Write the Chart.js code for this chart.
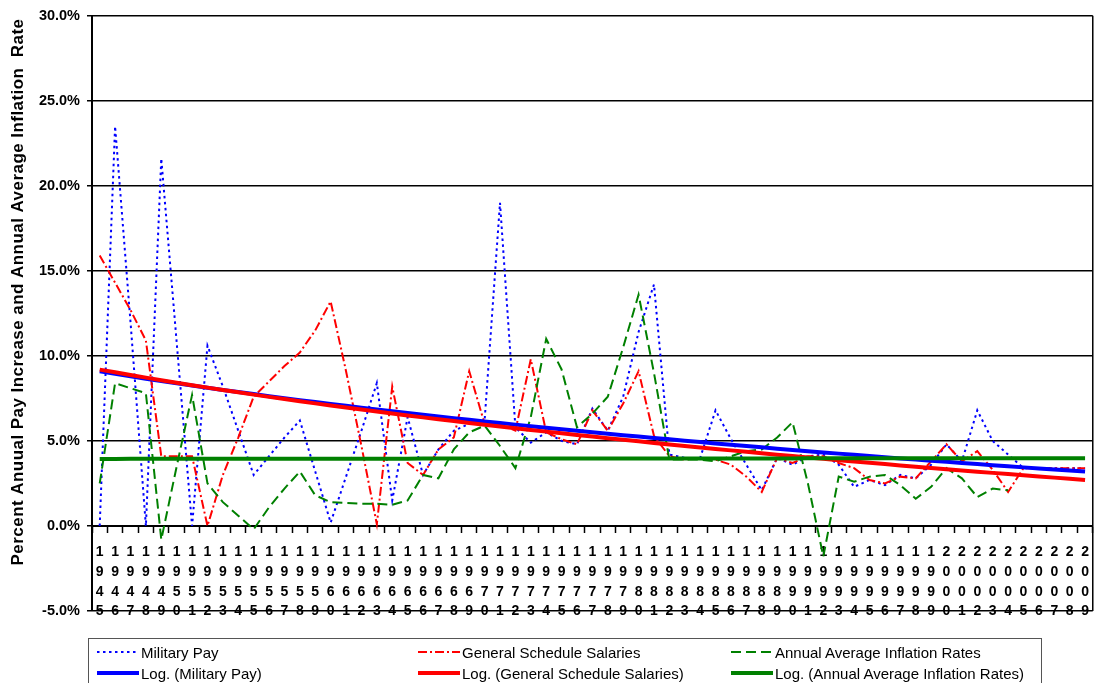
<!DOCTYPE html>
<html>
<head>
<meta charset="utf-8">
<script src="https://cdn.jsdelivr.net/npm/chart.js"></script>
<style>
body { margin: 0; background: #fff; }
#wrap { position: relative; width: 1099px; height: 683px; overflow: hidden; }
#legend { position: absolute; left: 88px; top: 638px; width: 952px; height: 52px; border: 1px solid #555; font: 15px Arial, 'Liberation Sans', sans-serif; color: #000; }
.item { position: absolute; display: flex; align-items: center; white-space: nowrap; height: 20px; }
.item svg { margin-right: 2px; }
</style>
</head>
<body>
<div id="wrap">
  <canvas id="myChart" width="1099" height="683"></canvas>
  <div id="legend"></div>
</div>
<script>
const FONT = "Arial, 'Liberation Sans', sans-serif";

const years = [1945, 1946, 1947, 1948, 1949, 1950, 1951, 1952, 1953, 1954,
  1955, 1956, 1957, 1958, 1959, 1960, 1961, 1962, 1963, 1964,
  1965, 1966, 1967, 1968, 1969, 1970, 1971, 1972, 1973, 1974,
  1975, 1976, 1977, 1978, 1979, 1980, 1981, 1982, 1983, 1984,
  1985, 1986, 1987, 1988, 1989, 1990, 1991, 1992, 1993, 1994,
  1995, 1996, 1997, 1998, 1999, 2000, 2001, 2002, 2003, 2004,
  2005, 2006, 2007, 2008, 2009];

// null = cellule vide (Excel la trace a zero mais l'ignore pour la tendance)
const militaryPay = [null, 23.5, 12.0, 0.0, 21.6, 10.8, 0.0, 10.6, 8.2, 5.6,
  3.0, 4.1, 5.2, 6.2, 3.2, 0.2, 2.9, 5.6, 8.4, 1.5,
  6.4, 3.0, 4.5, 5.6, 6.0, 6.2, 19.0, 5.8, 4.9, 5.5,
  5.0, 4.8, 6.9, 5.6, 7.6, 11.4, 14.2, 4.2, 4.0, 4.0,
  6.8, 5.1, 3.6, 2.1, 4.0, 3.6, 4.1, 4.2, 3.6, 2.3,
  2.7, 2.4, 3.0, 2.8, 3.6, 4.8, 3.8, 6.8, 5.0, 4.2,
  3.4, 3.4, 3.4, 3.4, 3.4];

const gsSalaries = [15.9, 14.3, 12.7, 10.9, 4.1, 4.1, 4.1, 0.0, 3.0, 5.2,
  7.6, 8.5, 9.4, 10.2, 11.5, 13.2, 9.1, 4.7, 0.1, 8.2,
  3.7, 3.0, 4.5, 5.2, 9.1, 6.0, 6.0, 5.6, 9.8, 5.5,
  5.1, 4.8, 6.8, 5.6, 7.2, 9.1, 5.3, 4.1, 3.9, 4.0,
  3.9, 3.6, 2.9, 2.0, 4.0, 3.7, 4.1, 4.1, 3.7, 3.4,
  2.7, 2.5, 2.9, 2.8, 3.8, 4.8, 3.8, 4.4, 3.3, 2.0,
  3.4, 3.4, 3.4, 3.4, 3.4];

const inflation = [2.5, 8.4, 8.1, 7.8, -0.8, 3.5, 7.7, 2.5, 1.4, 0.6,
  -0.2, 1.1, 2.2, 3.2, 1.8, 1.4, 1.35, 1.3, 1.3, 1.25,
  1.5, 3.0, 2.8, 4.5, 5.5, 5.9, 4.7, 3.4, 6.4, 11.0,
  9.2, 5.8, 6.6, 7.6, 10.5, 13.6, 9.0, 3.9, 3.9, 3.9,
  3.8, 4.1, 4.4, 4.5, 5.2, 6.1, 2.5, -1.8, 2.9, 2.6,
  2.9, 3.0, 2.4, 1.6, 2.3, 3.4, 2.8, 1.7, 2.2, 2.1,
  null, null, null, null, null];

const yTicks = { min: -5, max: 30, step: 5 };

// courbe de tendance logarithmique (comme Excel) : y = a*ln(x) + b, x = annee sur deux chiffres
function logTrend(values) {
  let n = 0, sx = 0, sy = 0, sxx = 0, sxy = 0;
  values.forEach(function (v, i) {
    if (v === null) return;
    const x = Math.log(years[i] - 1900);
    n++; sx += x; sy += v; sxx += x * x; sxy += x * v;
  });
  const a = (n * sxy - sx * sy) / (n * sxx - sx * sx);
  const b = (sy - a * sx) / n;
  return years.map(function (y) { return a * Math.log(y - 1900) + b; });
}

function blankAsZero(values) {
  return values.map(function (v) { return v === null ? 0 : v; });
}

const labels = years.map(function (y) { return String(y).split(''); });

const datasets = [
  { label: 'Military Pay', data: blankAsZero(militaryPay), borderColor: '#0000FF', borderWidth: 2, borderDash: [2.5, 3.5], order: 6 },
  { label: 'General Schedule Salaries', data: gsSalaries, borderColor: '#FF0000', borderWidth: 2, borderDash: [9, 3, 2, 3], order: 5 },
  { label: 'Annual Average Inflation Rates', data: inflation, borderColor: '#008000', borderWidth: 2, borderDash: [10, 5], order: 4 },
  { label: 'Log. (Military Pay)', data: logTrend(militaryPay), borderColor: '#0000FF', borderWidth: 4, borderDash: [], order: 3 },
  { label: 'Log. (General Schedule Salaries)', data: logTrend(gsSalaries), borderColor: '#FF0000', borderWidth: 4, borderDash: [], order: 2 },
  { label: 'Log. (Annual Average Inflation Rates)', data: logTrend(inflation), borderColor: '#008000', borderWidth: 4, borderDash: [], order: 1 }
];
datasets.forEach(function (d) {
  d.pointRadius = 0;
  d.tension = 0;
  d.fill = false;
});

/* cadre et titre vertical */
const framePlugin = {
  id: 'frame',
  afterDraw: function (chart) {
    const c = chart.ctx, a = chart.chartArea;
    c.save();
    c.strokeStyle = '#000';
    c.lineWidth = 1.5;
    c.beginPath();
    c.moveTo(a.right, a.top);
    c.lineTo(a.right, a.bottom);
    c.stroke();
    c.translate(18, 292);
    c.rotate(-Math.PI / 2);
    c.fillStyle = '#000';
    c.font = 'bold 17px ' + FONT;
    c.letterSpacing = '0.45px';
    c.textAlign = 'center';
    c.textBaseline = 'middle';
    c.fillText('Percent Anuual Pay Increase and Annual Average Inflation  Rate', 0, 0);
    c.restore();
  }
};

const ctx = document.getElementById('myChart').getContext('2d');
const chart = new Chart(ctx, {
  type: 'line',
  data: { labels: labels, datasets: datasets },
  options: {
    responsive: false,
    animation: false,
    layout: { padding: { left: 0, right: 5, top: 15, bottom: 72 } },
    plugins: { legend: { display: false }, tooltip: { enabled: false } },
    scales: {
      x: {
        type: 'category',
        position: { y: 0 },
        offset: true,
        grid: { offset: true, drawOnChartArea: false, drawTicks: true, tickLength: 6, tickColor: '#000', tickWidth: 1.5 },
        border: { color: '#000', width: 2 },
        ticks: {
          autoSkip: false, maxRotation: 0, minRotation: 0, color: '#000', padding: 10,
          font: { family: FONT, size: 14, weight: 'bold', lineHeight: 1.42 }
        }
      },
      y: {
        min: yTicks.min,
        max: yTicks.max,
        ticks: {
          stepSize: yTicks.step, color: '#000', padding: 7,
          font: { family: FONT, size: 14.5, weight: 'bold' },
          callback: function (v) { return v.toFixed(1) + '%'; }
        },
        grid: { color: '#000', lineWidth: 1.5, tickLength: 5, tickColor: '#000' },
        border: { color: '#000', width: 2 },
        afterFit: function (s) { s.width = 92; }
      }
    }
  },
  plugins: [framePlugin]
});

/* legende en 3 colonnes x 2 lignes */
const legendCols = [8, 329, 642];
const legendRows = [3, 24];
const legend = document.getElementById('legend');
chart.data.datasets.forEach(function (d, i) {
  const item = document.createElement('div');
  item.className = 'item';
  item.style.left = legendCols[i % 3] + 'px';
  item.style.top = legendRows[Math.floor(i / 3)] + 'px';
  const dash = d.borderDash.length ? ' stroke-dasharray="' + d.borderDash.join(' ') + '"' : '';
  item.innerHTML = '<svg width="42" height="8"><line x1="0" y1="4" x2="42" y2="4" stroke="' + d.borderColor +
    '" stroke-width="' + d.borderWidth + '"' + dash + '/></svg><span>' + d.label + '</span>';
  legend.appendChild(item);
});
</script>
</body>
</html>
